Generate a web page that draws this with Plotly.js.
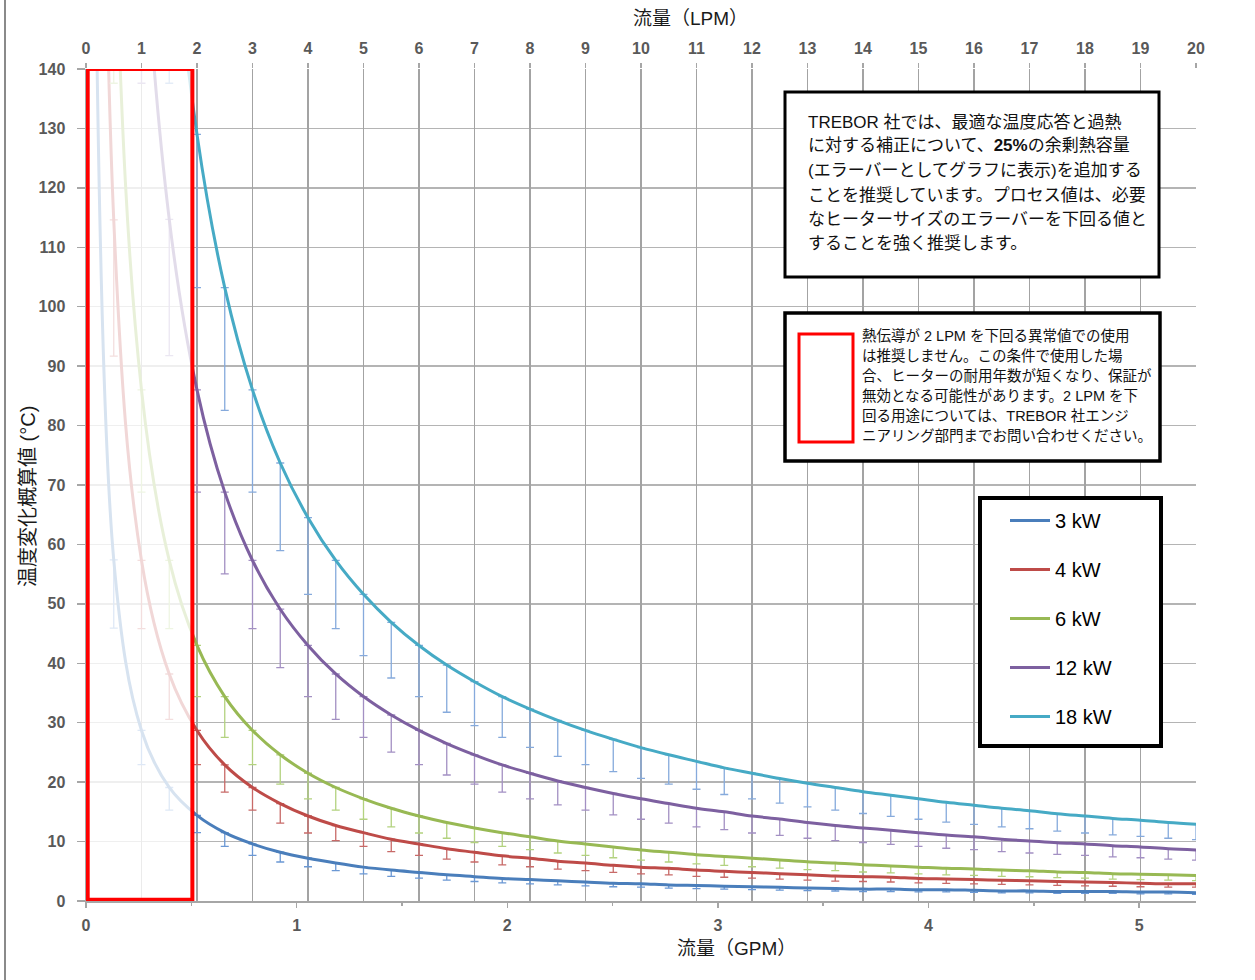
<!DOCTYPE html>
<html>
<head>
<meta charset="utf-8">
<script src="https://cdn.plot.ly/plotly-3.0.1.min.js"></script>
<style>
  html, body { margin: 0; padding: 0; background: #ffffff; }
  #chart { width: 1255px; height: 980px; }
</style>
</head>
<body>
<div id="chart"></div>
<script>
// ---------------- data ----------------
// flow in LPM (data points every 0.5 LPM, with a leading point near 0)
const flowLPM = [0.1, 0.5, 1, 1.5, 2, 2.5, 3, 3.5, 4, 4.5, 5, 5.5, 6, 6.5, 7, 7.5, 8, 8.5, 9, 9.5, 10,
                 10.5, 11, 11.5, 12, 12.5, 13, 13.5, 14, 14.5, 15, 15.5, 16, 16.5, 17, 17.5, 18, 18.5, 19, 19.5, 20];

const seriesNames = ['3 kW', '4 kW', '6 kW', '12 kW', '18 kW'];

// estimated temperature rise (°C)
const rise3kW  = [287, 57.4, 28.7, 19.1, 14.4, 11.5, 9.6, 8.2, 7.2, 6.4, 5.7, 5.2, 4.8, 4.4, 4.1, 3.8, 3.6, 3.4, 3.2, 3.0, 2.9,
                  2.7, 2.6, 2.5, 2.4, 2.3, 2.2, 2.1, 2.0, 2.0, 1.9, 1.9, 1.8, 1.7, 1.7, 1.6, 1.6, 1.6, 1.5, 1.5, 1.4];
const rise4kW  = [573, 114.6, 57.3, 38.2, 28.7, 22.9, 19.1, 16.4, 14.3, 12.7, 11.5, 10.4, 9.6, 8.8, 8.2, 7.6, 7.2, 6.7, 6.4, 6.0, 5.7,
                  5.5, 5.2, 5.0, 4.8, 4.6, 4.4, 4.2, 4.1, 4.0, 3.8, 3.7, 3.6, 3.5, 3.4, 3.3, 3.2, 3.1, 3.0, 2.9, 2.9];
const rise6kW  = [860, 172, 86, 57.3, 43, 34.4, 28.7, 24.6, 21.5, 19.1, 17.2, 15.6, 14.3, 13.2, 12.3, 11.5, 10.8, 10.1, 9.6, 9.1, 8.6,
                  8.2, 7.8, 7.5, 7.2, 6.9, 6.6, 6.4, 6.1, 5.9, 5.7, 5.5, 5.4, 5.2, 5.1, 4.9, 4.8, 4.6, 4.5, 4.4, 4.3];
const rise12kW = [1720, 344, 172, 114.7, 86, 68.8, 57.3, 49.1, 43, 38.2, 34.4, 31.3, 28.7, 26.5, 24.6, 22.9, 21.5, 20.2, 19.1, 18.1, 17.2,
                  16.4, 15.6, 15.0, 14.3, 13.8, 13.2, 12.7, 12.3, 11.9, 11.5, 11.1, 10.8, 10.4, 10.1, 9.8, 9.6, 9.3, 9.1, 8.8, 8.6];
const rise18kW = [2580, 516, 258, 172, 129, 103.2, 86, 73.7, 64.5, 57.3, 51.6, 46.9, 43, 39.7, 36.9, 34.4, 32.3, 30.4, 28.7, 27.2, 25.8,
                  24.6, 23.5, 22.4, 21.5, 20.6, 19.8, 19.1, 18.4, 17.8, 17.2, 16.6, 16.1, 15.6, 15.2, 14.7, 14.3, 13.9, 13.6, 13.2, 12.9];

const marginPercent = 20;   // error bar below each curve (25% surplus → value/1.25)

const lpmRange = [0, 20];           // LPM axis range (top)
const gpmRange = [0, 5.27];         // GPM axis range (bottom, same physical span)
const tempRange = [0, 140];

// text blocks
const noteLines1 = [
  'TREBOR 社では、最適な温度応答と過熱',
  'に対する補正について、<b>25%</b>の余剰熱容量',
  '(エラーバーとしてグラフに表示)を追加する',
  'ことを推奨しています。プロセス値は、必要',
  'なヒーターサイズのエラーバーを下回る値と',
  'することを強く推奨します。'
];
const noteLines2 = [
  '熱伝導が 2 LPM を下回る異常値での使用',
  'は推奨しません。この条件で使用した場',
  '合、ヒーターの耐用年数が短くなり、保証が',
  '無効となる可能性があります。2 LPM を下',
  '回る用途については、TREBOR 社エンジ',
  'ニアリング部門までお問い合わせください。'
];
const topTitle = '流量（LPM）';
const bottomTitle = '流量（GPM）';
const yTitle = '温度変化概算値 (°C)';

// ---------------- styling ----------------
const lineColors = ['#4a7ebb', '#be4b48', '#98b954', '#7d60a0', '#46aac5'];
const errColors  = ['#6b98d4', '#c86a68', '#b3d27f', '#a390c3', '#86aadc'];
const FONT = '"Liberation Sans", Arial, "Noto Sans CJK JP", sans-serif';

const W = 1255, H = 980;
const L = 86, R = 1196, T = 69, B = 901;
const px = x => (x - L) / (R - L);
const py = y => (B - y) / (B - T);

const allRise = [rise3kW, rise4kW, rise6kW, rise12kW, rise18kW];
const traces = allRise.map((ys, i) => ({
  type: 'scatter',
  mode: 'lines',
  name: seriesNames[i],
  legendgroup: 'g' + i,
  x: flowLPM,
  y: ys,
  xaxis: 'x2',
  yaxis: 'y',
  line: { color: lineColors[i], width: 3, shape: 'spline', smoothing: 1 },
  error_y: {
    type: 'percent', symmetric: false, value: 0, valueminus: marginPercent,
    color: errColors[i], thickness: 1.3, width: 4
  },
  hoverinfo: 'skip'
}));

const shapes = [
  // image frame line on the left
  { type: 'line', xref: 'paper', yref: 'paper', x0: px(5), x1: px(5), y0: py(0), y1: py(980),
    line: { color: '#8a8a8a', width: 2 } },
  // faded restricted region (below 2 LPM / 0.5 GPM)
  { type: 'rect', xref: 'x', yref: 'y', x0: 0.008, x1: 0.505, y0: 0.2, y1: 140,
    fillcolor: 'rgba(255,255,255,0.78)', line: { color: '#ff0000', width: 4 }, layer: 'above' },
  // note box 1
  { type: 'rect', xref: 'paper', yref: 'paper', x0: px(785), x1: px(1159), y0: py(277), y1: py(92),
    fillcolor: '#ffffff', line: { color: '#000000', width: 3 }, layer: 'above' },
  // note box 2
  { type: 'rect', xref: 'paper', yref: 'paper', x0: px(785), x1: px(1160), y0: py(461), y1: py(313),
    fillcolor: '#ffffff', line: { color: '#000000', width: 3.5 }, layer: 'above' },
  { type: 'rect', xref: 'paper', yref: 'paper', x0: px(799), x1: px(853), y0: py(442), y1: py(334),
    fillcolor: '#ffffff', line: { color: '#ff0000', width: 3 }, layer: 'above' },
  // legend frame
  { type: 'rect', xref: 'paper', yref: 'paper', x0: px(980), x1: px(1161), y0: py(746), y1: py(498),
    fillcolor: '#ffffff', line: { color: '#000000', width: 4 }, layer: 'above' }
];

const annotations = [];
const lineY1 = [121.5, 146, 170.5, 195, 219, 243];
noteLines1.forEach((t, i) => annotations.push({
  xref: 'paper', yref: 'paper', x: px(806), y: py(lineY1[i]), xanchor: 'left', yanchor: 'middle',
  text: t, showarrow: false, font: { family: FONT, size: 17, color: '#111111' }
}));
const lineY2 = [335.5, 355.5, 375.5, 395.5, 415.5, 435.5];
noteLines2.forEach((t, i) => annotations.push({
  xref: 'paper', yref: 'paper', x: px(860), y: py(lineY2[i]), xanchor: 'left', yanchor: 'middle',
  text: t, showarrow: false, font: { family: FONT, size: 14.5, color: '#111111' }
}));
// axis titles placed as in the reference
annotations.push({ xref: 'paper', yref: 'paper', x: px(631), y: py(18), xanchor: 'left', yanchor: 'middle',
  text: topTitle, showarrow: false, font: { family: FONT, size: 19, color: '#1a1a1a' } });
annotations.push({ xref: 'paper', yref: 'paper', x: px(675), y: py(948), xanchor: 'left', yanchor: 'middle',
  text: bottomTitle, showarrow: false, font: { family: FONT, size: 19, color: '#1a1a1a' } });
annotations.push({ xref: 'paper', yref: 'paper', x: px(28), y: py(497), xanchor: 'center', yanchor: 'middle',
  text: yTitle, textangle: -90, showarrow: false, font: { family: FONT, size: 20, color: '#1a1a1a' } });

const tickFont = { family: FONT, size: 16, color: '#595959', weight: 'bold' };

const layout = {
  width: W, height: H,
  autosize: false,
  margin: { l: L, r: W - R, t: T, b: H - B, pad: 0 },
  paper_bgcolor: '#ffffff',
  plot_bgcolor: '#ffffff',
  font: { family: FONT },
  showlegend: true,
  legend: {
    x: px(1005), y: py(501), xanchor: 'left', yanchor: 'top',
    bgcolor: 'rgba(0,0,0,0)', borderwidth: 0,
    font: { family: FONT, size: 20, color: '#000000' },
    tracegroupgap: 20, itemwidth: 40,
    traceorder: 'grouped'
  },
  xaxis: {
    range: gpmRange, side: 'bottom', anchor: 'y',
    dtick: 1, tick0: 0, showgrid: false, zeroline: false,
    showline: true, linecolor: '#a6a6a6', linewidth: 1.5,
    ticks: 'outside', ticklen: 5, tickwidth: 1.5, tickcolor: '#a6a6a6',
    minor: { dtick: 0.5, ticks: 'outside', ticklen: 3, tickcolor: '#a6a6a6', showgrid: false },
    tickfont: tickFont, ticklabelstandoff: 4
  },
  xaxis2: {
    range: lpmRange, side: 'top', overlaying: 'x', anchor: 'y',
    dtick: 1, tick0: 0, showgrid: true, gridcolor: '#a3a3a3', gridwidth: 1.5, zeroline: false,
    showline: false,
    ticks: 'outside', ticklen: 5, tickwidth: 1.5, tickcolor: '#a6a6a6',
    tickfont: tickFont, ticklabelstandoff: 3
  },
  yaxis: {
    range: tempRange, dtick: 10, tick0: 0,
    showgrid: true, gridcolor: '#b4b4b4', gridwidth: 1.5, zeroline: false,
    showline: true, linecolor: '#a6a6a6', linewidth: 1.5,
    ticks: 'outside', ticklen: 8, tickwidth: 1.5, tickcolor: '#a6a6a6',
    tickfont: tickFont, ticklabelstandoff: 8
  },
  shapes: shapes,
  annotations: annotations
};

Plotly.newPlot('chart', traces, layout, { displayModeBar: false, staticPlot: true });
</script>
</body>
</html>
